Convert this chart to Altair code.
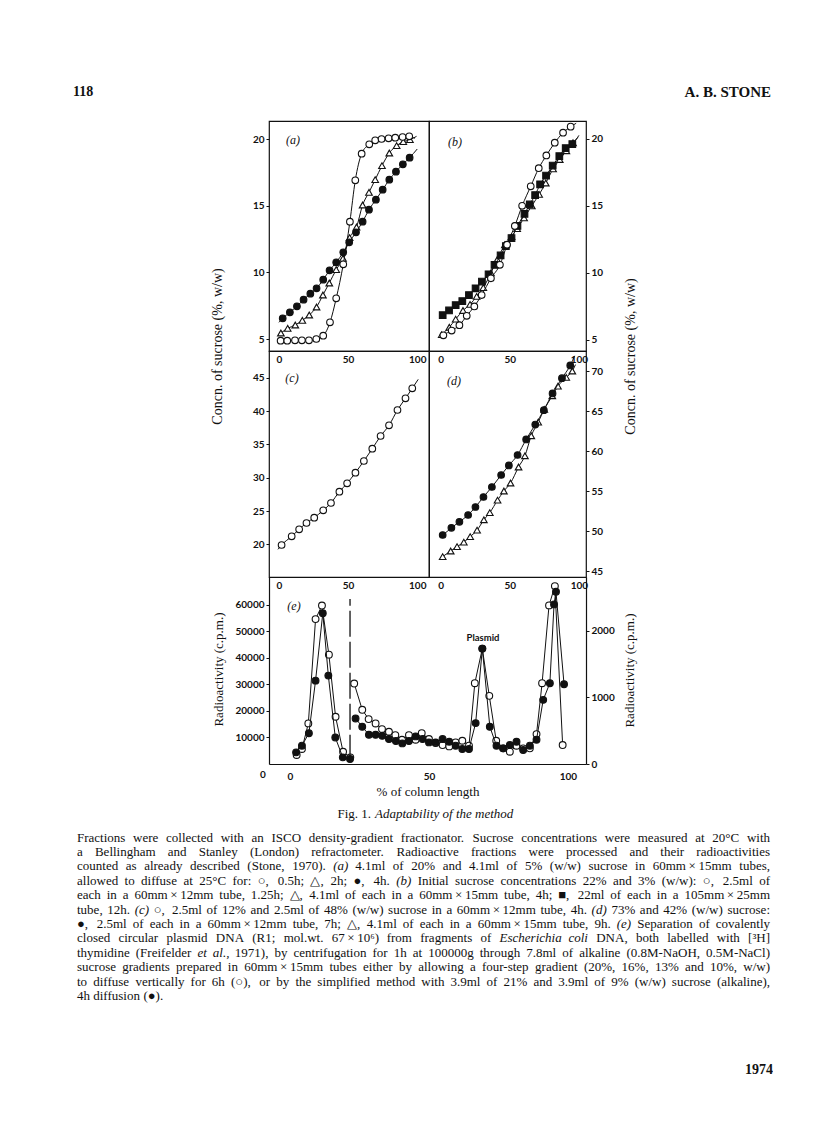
import altair as alt
import pandas as pd

# ---------------- data ----------------
# Panel (a): 20% / 5% sucrose, diffusion 0.5 h (open circles), 2 h (triangles), 4 h (filled circles)
a_open_x = [1.2, 6, 11.6, 16.6, 21.7, 27, 32, 36.9, 41.4, 46.5, 51.3, 55.2, 59.8, 65.3, 69.6, 74.2, 79.3, 84.1, 89.4, 94.2]
a_open_y = [4.87, 4.87, 4.9, 4.9, 4.9, 5.0, 5.25, 6.25, 8.05, 10.6, 13.8, 16.9, 18.9, 19.6, 19.9, 20.0, 20.05, 20.1, 20.15, 20.2]
a_open_end = [98.3, 20.05]
a_tri_x = [1.4, 6.3, 11.8, 16.9, 21.9, 27.2, 31.8, 36.4, 41.4, 46.3, 51.1, 56.1, 60.5, 65.1, 69.6, 74.5, 79.8, 85.1, 89.9, 94.7]
a_tri_y = [5.45, 5.8, 6.05, 6.4, 6.8, 7.4, 8.3, 9.2, 10.2, 11.05, 12.6, 13.4, 15.05, 16.0, 16.95, 18.0, 18.95, 19.5, 19.8, 19.95]
a_tri_end = [99.5, 20.2]
a_fill_x = [2.7, 7.9, 13, 17.8, 22.7, 27.2, 32, 36.6, 41.4, 46.5, 50.8, 55.7, 60.5, 65.1, 70.1, 75, 79.8, 84.6, 89.6, 94.5]
a_fill_y = [6.55, 7.0, 7.45, 7.95, 8.4, 8.8, 9.45, 10.15, 10.75, 11.5, 12.25, 13.0, 13.8, 14.7, 15.45, 16.2, 16.95, 17.55, 18.1, 18.6]
a_fill_start = [0, 6.25]
a_fill_end = [100, 19.25]

# Panel (b): 22% / 3% sucrose
b_open_x = [1.9, 7.9, 13.5, 18.8, 24.3, 29.6, 36.3, 42.8, 48, 53.6, 58.9, 65.1, 70.9, 76.4, 82.5, 88.5, 94]
b_open_y = [5.35, 5.7, 6.1, 6.8, 7.5, 8.35, 9.6, 10.6, 12.1, 13.5, 15.0, 16.45, 17.8, 18.75, 19.7, 20.45, 20.9]
b_open_start = [0, 5.15]
b_open_end = [98, 21.15]
b_tri_x = [0.7, 6.2, 10.8, 16.1, 21.2, 26.0, 30.8, 36.3, 40.9, 46.4, 51.2, 55.3, 60.3, 65.9, 71.2, 76.0, 81.3, 86.1, 90.9, 95.7]
b_tri_y = [5.4, 5.95, 6.55, 7.2, 7.65, 8.25, 8.9, 10.0, 11.0, 12.1, 12.7, 13.3, 14.1, 15.0, 15.85, 16.7, 17.75, 18.45, 19.1, 19.7]
b_tri_end = [99.3, 20.1]
b_sq_x = [1.4, 6, 10.8, 15.6, 20.4, 25.2, 29.8, 34.6, 38.9, 43.3, 47.1, 51.2, 55.5, 60.6, 64.4, 68.3, 71.9, 76.2, 81, 85.8, 90.4, 95.2]
b_sq_y = [6.85, 7.2, 7.6, 7.9, 8.35, 8.85, 9.35, 9.9, 10.6, 11.3, 12.0, 12.6, 13.5, 14.4, 15.1, 15.8, 16.6, 17.25, 18.0, 18.7, 19.3, 19.6]
b_sq_end = [100, 20.25]

# Panel (c): 12% / 48% sucrose, 4 h
c_x = [1.9, 9.2, 14.6, 19.9, 25.5, 32, 37.6, 43.7, 49.3, 55.3, 61.4, 67.5, 73.5, 79.6, 85.7, 91.5, 96.4]
c_y = [19.9, 21.2, 22.25, 23.2, 24.0, 25.1, 26.2, 27.9, 29.15, 30.75, 32.5, 34.35, 36.25, 37.85, 40.15, 41.9, 43.4]
c_start = [-0.7, 19.25]
c_end = [100.7, 44.75]

# Panel (d): 73% / 42% sucrose, 7 h (filled circles), 9 h (triangles)
d_fill_x = [1.4, 7.7, 13.5, 19.8, 25.1, 30.9, 37, 43.7, 49.3, 55.6, 61.8, 68.4, 74.6, 80.9, 87.7, 93.7]
d_fill_y = [49.5, 50.4, 51.15, 52.0, 53.0, 54.25, 55.5, 57.0, 58.2, 59.5, 61.45, 63.3, 65.1, 67.2, 69.1, 70.7]
d_fill_start = [-0.5, 49.3]
d_fill_end = [96.9, 71.9]
d_tri_x = [1.4, 7.2, 11.8, 16.7, 21.3, 26.3, 31.2, 35.5, 41.1, 45.7, 50.5, 56.3, 60.9, 65.5, 70.5, 74.9, 80.7, 84.8, 90.8, 95.2]
d_tri_y = [46.8, 47.5, 48.05, 48.6, 49.3, 50.1, 51.4, 52.3, 53.85, 55.0, 56.0, 58.0, 59.4, 61.9, 63.6, 65.2, 66.9, 68.1, 69.2, 70.0]
d_tri_end = [97.5, 70.8]

# Panel (e): radioactivity (c.p.m.); left part on the left scale, right part on the right scale
e_open_L_x = [2.4, 4.3, 6.6, 9.2, 11.5, 14.0, 16.4, 19.1, 21.7]
e_open_L_y = [3400, 5650, 15300, 54600, 59700, 41200, 17800, 4600, 2500]
e_fill_L_x = [2.2, 4.3, 6.8, 9.2, 11.8, 13.8, 16.3, 19.0, 21.6]
e_fill_L_y = [4400, 6900, 11600, 31400, 56800, 33300, 10000, 2500, 1900]
e_open_R_x = [23.1, 26.0, 28.3, 30.8, 33.1, 35.6, 37.9, 40.3, 42.8, 45.2, 47.4, 50.0, 52.4, 54.9, 57.3, 59.6,
              62.0, 64.4, 66.5, 69.2, 71.7, 74.2, 76.7, 79.1, 81.5, 83.9, 86.3, 88.7, 90.7, 93.2, 95.3, 98.1]
e_open_R_y = [1210, 815, 675, 610, 525, 485, 435, 365, 435, 365, 465, 375, 315, 285, 265, 325,
              350, 275, 1215, 1735, 1025, 350, 235, 185, 275, 235, 235, 450, 1215, 2385, 2675, 285]
e_fill_R_x = [23.6, 26.0, 28.4, 30.8, 33.2, 35.6, 38.1, 40.4, 42.8, 45.2, 47.7, 50.0, 52.4, 54.9, 57.3, 59.6,
              62.0, 64.4, 66.8, 69.2, 71.9, 74.3, 76.7, 79.1, 81.5, 83.9, 86.3, 88.7, 91.1, 93.5, 95.0, 95.7, 98.6]
e_fill_R_y = [685, 560, 440, 440, 425, 375, 345, 310, 345, 415, 375, 325, 325, 375, 335, 275,
              225, 225, 615, 1735, 560, 275, 235, 285, 335, 210, 275, 365, 965, 1215, 2400, 2590, 1200]
e_dash_x = [21.6]
e_dash_y0 = [1200]
e_dash_y1 = [62200]

# axis tick values
x_ticks = [0, 50, 100]
ab_ticks = [5, 10, 15, 20]
c_ticks = [20, 25, 30, 35, 40, 45]
d_ticks = [45, 50, 55, 60, 65, 70]
eL_ticks = [10000, 20000, 30000, 40000, 50000, 60000]
eR_ticks = [0, 1000, 2000]

T = "\u2009×\u2009"
caption_lines = [
    "Fractions were collected with an ISCO density-gradient fractionator. Sucrose concentrations were measured at 20°C with",
    "a Bellingham and Stanley (London) refractometer. Radioactive fractions were processed and their radioactivities",
    f"counted as already described (Stone, 1970). (a) 4.1ml of 20% and 4.1ml of 5% (w/w) sucrose in 60mm{T}15mm tubes,",
    "allowed to diffuse at 25°C for: ○, 0.5h; △, 2h; ●, 4h. (b) Initial sucrose concentrations 22% and 3% (w/w): ○, 2.5ml of",
    f"each in a 60mm{T}12mm tube, 1.25h; △, 4.1ml of each in a 60mm{T}15mm tube, 4h; ■, 22ml of each in a 105mm{T}25mm",
    f"tube, 12h. (c) ○, 2.5ml of 12% and 2.5ml of 48% (w/w) sucrose in a 60mm{T}12mm tube, 4h. (d) 73% and 42% (w/w) sucrose:",
    f"●, 2.5ml of each in a 60mm{T}12mm tube, 7h; △, 4.1ml of each in a 60mm{T}15mm tube, 9h. (e) Separation of covalently",
    "closed circular plasmid DNA (R1; mol.wt. 67\u2009×\u200910⁶) from fragments of Escherichia coli DNA, both labelled with [³H]",
    "thymidine (Freifelder et al., 1971), by centrifugation for 1h at 100000g through 7.8ml of alkaline (0.8M-NaOH, 0.5M-NaCl)",
    f"sucrose gradients prepared in 60mm{T}15mm tubes either by allowing a four-step gradient (20%, 16%, 13% and 10%, w/w)",
    "to diffuse vertically for 6h (○), or by the simplified method with 3.9ml of 21% and 3.9ml of 9% (w/w) sucrose (alkaline),",
    "4h diffusion (●).",
]
italic_words = {"(a)", "(b)", "(c)", "(d)", "(e)", "Escherichia", "coli", "et", "al.,"}

# ---------------- styling helpers ----------------
SERIF = "Liberation Serif"
SANS = "Lato"
INK = "#111111"
NOSTROKE = alt.ViewBackground(strokeOpacity=0)


def x_axis(pad, title=None, **kw):
    return alt.Axis(values=x_ticks, ticks=False, grid=False, labelPadding=pad,
                    labelFont=SANS, labelFontSize=10, labelFontWeight="bold", labelColor=INK,
                    labelFlush=False, labelOverlap=False, title=title, **kw)


def y_axis(vals, orient, title=None, fmt="d", **kw):
    kw.setdefault("domain", False)
    return alt.Axis(values=vals, orient=orient, tickSize=3, tickColor=INK, tickWidth=1,
                    grid=False, labelPadding=2, format=fmt,
                    labelFont=SANS, labelFontSize=10, labelFontWeight="bold", labelColor=INK,
                    labelFlush=False, labelOverlap=False, title=title, **kw)


def title_kw(tx, ty, size):
    return dict(titleX=tx, titleY=ty, titleAngle=270, titleAlign="center", titleBaseline="middle",
                titleFont=SERIF, titleFontSize=size, titleFontWeight="normal", titleColor=INK)


def line_layer(xs, ys, xs_, ys_, xa, ya, interp="monotone"):
    df = pd.DataFrame({"x": xs, "y": ys})
    return alt.Chart(df).mark_line(color=INK, strokeWidth=1.0, interpolate=interp).encode(
        x=alt.X("x:Q", scale=xs_, axis=xa), y=alt.Y("y:Q", scale=ys_, axis=ya))


def point_layer(xs, ys, shape, black, xs_, ys_, xa, ya, size=44):
    df = pd.DataFrame({"x": xs, "y": ys})
    return alt.Chart(df).mark_point(shape=shape, filled=True, fill=INK if black else "white",
                                    stroke=INK, strokeWidth=1.1, size=size, opacity=1).encode(
        x=alt.X("x:Q", scale=xs_, axis=xa), y=alt.Y("y:Q", scale=ys_, axis=ya))


def text_layer(t, x, y, font=SERIF, size=12, style="normal", weight="normal", align="center",
               baseline="middle"):
    return alt.Chart(pd.DataFrame({"t": [t]})).mark_text(
        font=font, fontSize=size, fontStyle=style, fontWeight=weight, align=align,
        baseline=baseline, color=INK).encode(text="t:N", x=alt.value(x), y=alt.value(y))


def series(xs, ys, shape, black, sx, sy, xa, ya, start=None, end=None, interp="monotone", size=44):
    lx = ([start[0]] if start else []) + list(xs) + ([end[0]] if end else [])
    ly = ([start[1]] if start else []) + list(ys) + ([end[1]] if end else [])
    return [line_layer(lx, ly, sx, sy, xa, ya, interp), point_layer(xs, ys, shape, black, sx, sy, xa, ya, size)]


def spacer(w, h):
    return alt.Chart(pd.DataFrame({"t": [""]})).mark_text().encode(
        text="t:N", x=alt.value(0), y=alt.value(0)).properties(width=w, height=h, view=NOSTROKE)


# ---------------- panels ----------------
W_SP, W_L, W_R, H0, H1, H2, H3, H4 = 261, 160, 157, 107, 230, 226, 187, 330
W_E = W_L + W_R

# (a)
sxa = alt.Scale(domain=[-7.2, 108.5], nice=False, zero=False)
sya = alt.Scale(domain=[4.1, 21.35], nice=False, zero=False)
xa_a = x_axis(3, domain=False)
ya_a = y_axis(ab_ticks, "left", "Concn. of sucrose (%, w/w)", **title_kw(-52, 225, 14))
panel_a = alt.layer(
    *series(a_tri_x, a_tri_y, "triangle-up", False, sxa, sya, xa_a, ya_a, end=a_tri_end),
    *series(a_fill_x, a_fill_y, "circle", True, sxa, sya, xa_a, ya_a, start=a_fill_start, end=a_fill_end),
    *series(a_open_x, a_open_y, "circle", False, sxa, sya, xa_a, ya_a, end=a_open_end),
    text_layer("(a)", 24, 19, style="italic"),
).properties(width=W_L, height=H1)

# (b)
sxb = alt.Scale(domain=[-8.5, 105.1], nice=False, zero=False)
syb = alt.Scale(domain=[4.18, 21.32], nice=False, zero=False)
xa_b = x_axis(3, domain=False)
ya_b = y_axis(ab_ticks, "right", "Concn. of sucrose (%, w/w)", **title_kw(44, 235, 14))
panel_b = alt.layer(
    *series(b_tri_x, b_tri_y, "triangle-up", False, sxb, syb, xa_b, ya_b, end=b_tri_end),
    *series(b_sq_x, b_sq_y, "square", True, sxb, syb, xa_b, ya_b, end=b_sq_end),
    *series(b_open_x, b_open_y, "circle", False, sxb, syb, xa_b, ya_b, start=b_open_start, end=b_open_end),
    text_layer("(b)", 26, 21, style="italic"),
).properties(width=W_R, height=H1)

# (c)
syc = alt.Scale(domain=[15.1, 49.0], nice=False, zero=False)
xa_c = x_axis(3, domain=False)
ya_c = y_axis(c_ticks, "left")
panel_c = alt.layer(
    *series(c_x, c_y, "circle", False, sxa, syc, xa_c, ya_c, start=c_start, end=c_end),
    text_layer("(c)", 23, 27, style="italic"),
).properties(width=W_L, height=H2)

# (d)
syd = alt.Scale(domain=[44.25, 72.5], nice=False, zero=False)
xa_d = x_axis(3, domain=False)
ya_d = y_axis(d_ticks, "right")
panel_d = alt.layer(
    *series(d_tri_x, d_tri_y, "triangle-up", False, sxb, syd, xa_d, ya_d, end=d_tri_end),
    *series(d_fill_x, d_fill_y, "circle", True, sxb, syd, xa_d, ya_d, start=d_fill_start, end=d_fill_end),
    text_layer("(d)", 25, 30, style="italic"),
).properties(width=W_R, height=H2)

# (e): spans both columns; its cell is declared W_L wide and its x range runs to W_E,
# the frame is drawn by the axis domain lines
sxe = alt.Scale(domain=[-7.55, 106.5], range=[0, W_E], nice=False, zero=False)
syeL = alt.Scale(domain=[0, 70460], nice=False, zero=False)
syeR = alt.Scale(domain=[0, 2812], nice=False, zero=False)
xa_e = x_axis(7, "% of column length", domain=True, domainColor=INK, domainWidth=1.2,
              titleFont=SERIF, titleFontSize=13, titleFontWeight="normal",
              titleColor=INK, titleX=W_E / 2, titleY=27, titleBaseline="middle", titleAlign="center")
ya_eL = y_axis(eL_ticks, "left", "Radioactivity (c.p.m.)", domain=True, domainColor=INK, domainWidth=1.2,
               **title_kw(-51, 92, 13))
ya_eR = y_axis(eR_ticks, "right", "Radioactivity (c.p.m.)", domain=True, domainColor=INK, domainWidth=1.2,
               offset=W_E - W_L, **title_kw(43, 93, 13))

dash = alt.Chart(pd.DataFrame({"x": e_dash_x, "y": e_dash_y0, "y2": e_dash_y1})).mark_rule(
    color=INK, strokeWidth=1.3, strokeDash=[26, 5]).encode(
    x=alt.X("x:Q", scale=sxe, axis=xa_e), y=alt.Y("y:Q", scale=syeL, axis=ya_eL), y2="y2:Q")

left_e = alt.layer(
    *series(e_open_L_x, e_open_L_y, "circle", False, sxe, syeL, xa_e, ya_eL, interp="linear", size=46),
    *series(e_fill_L_x, e_fill_L_y, "circle", True, sxe, syeL, xa_e, ya_eL, interp="linear", size=46),
    dash,
    text_layer("(e)", 25, 29, style="italic"),
    text_layer("0", -6, 198, font=SANS, size=10, weight="bold"),
    text_layer("Plasmid", 214, 61, font=SANS, size=9.5, weight="bold"),
)
right_e = alt.layer(
    *series(e_open_R_x, e_open_R_y, "circle", False, sxe, syeR, xa_e, ya_eR, interp="linear", size=46),
    *series(e_fill_R_x, e_fill_R_y, "circle", True, sxe, syeR, xa_e, ya_eR, interp="linear", size=46),
)
panel_e = alt.layer(left_e, right_e).resolve_scale(y="independent").properties(
    width=W_L, height=H3, view=NOSTROKE)

# ---------------- page text ----------------
header = alt.layer(
    text_layer("118", 65, 78, size=14, weight="bold", align="left"),
    text_layer("A. B. STONE", 763, 78, size=15, weight="bold", align="right"),
).properties(width=W_SP, height=H0, view=NOSTROKE)

# justified caption: word widths estimated from Times metrics (Liberation Serif)
FS = 13
X_LEFT, X_RIGHT = 69, 762
TIMES = {" ": 250, "!": 333, "%": 833, "(": 333, ")": 333, ",": 250, "-": 333, ".": 250, "/": 278,
         ":": 278, ";": 278, "[": 333, "]": 333, "°": 400, "×": 564, "\u2009": 200, "⁶": 300, "³": 300,
         "○": 800, "●": 800, "△": 800, "■": 800}
TIMES.update({d: 500 for d in "0123456789"})
TIMES.update(dict(zip("abcdefghijklmnopqrstuvwxyz",
                      [444, 500, 444, 500, 444, 333, 500, 500, 278, 278, 500, 278, 778, 500, 500, 500, 500,
                       333, 389, 278, 500, 500, 722, 500, 500, 444])))
TIMES.update(dict(zip("ABCDEFGHIJKLMNOPQRSTUVWXYZ",
                      [722, 667, 667, 722, 611, 556, 722, 722, 333, 389, 722, 611, 889, 722, 722, 556, 722,
                       667, 556, 611, 722, 722, 944, 722, 722, 611])))


def word_width(w):
    return sum(TIMES.get(ch, 556) for ch in w) * FS / 1000.0


word_rows = []
for i, line in enumerate(caption_lines):
    words = line.split(" ")
    widths = [word_width(w) for w in words]
    last_line = i == len(caption_lines) - 1
    gap = word_width(" ") if (last_line or len(words) < 2) else \
        (X_RIGHT - X_LEFT - sum(widths)) / (len(words) - 1)
    x = X_LEFT
    for j, (w, wd) in enumerate(zip(words, widths)):
        end_word = (j == len(words) - 1) and not last_line
        word_rows.append({"i": i, "w": w, "x": X_RIGHT if end_word else x,
                          "kind": "end" if end_word else ("it" if w in italic_words else "n")})
        x += wd + gap
words_df = pd.DataFrame(word_rows)

y_lines = alt.Scale(domain=[0, len(caption_lines) - 1], range=[73.5, 232])


def word_layer(kind, align, style):
    return alt.Chart(words_df).transform_filter(alt.datum.kind == kind).mark_text(
        font=SERIF, fontSize=FS, align=align, baseline="middle", fontStyle=style, color=INK).encode(
        text="w:N", x=alt.X("x:Q", scale=None, axis=None),
        y=alt.Y("i:Q", scale=y_lines, axis=None))


caption = alt.layer(
    text_layer("Fig. 1.", 363, 50, size=13, align="right"),
    text_layer("Adaptability of the method", 367, 50, size=13, style="italic", align="left"),
    word_layer("n", "left", "normal"),
    word_layer("it", "left", "italic"),
    word_layer("end", "right", "normal"),
    text_layer("1974", 765, 306, size=14, weight="bold", align="right"),
).properties(width=W_SP, height=H4, view=NOSTROKE)

# ---------------- layout: grid, 3 cells per row ----------------
cells = [
    header, spacer(W_L, H0), spacer(W_R, H0),
    spacer(W_SP, H1), panel_a, panel_b,
    spacer(W_SP, H2), panel_c, panel_d,
    spacer(W_SP, H3), panel_e, spacer(1, H3),
    caption, spacer(1, H4), spacer(1, H4),
]

chart = alt.concat(*cells, columns=3, spacing=0, bounds="flush", align="each").properties(
    padding={"left": 0, "top": 0, "right": 0, "bottom": 0}
).configure(background="white").configure_view(stroke=INK, strokeWidth=1.2)

chart.save("out.html", embed_options={"renderer": "svg", "actions": False})
